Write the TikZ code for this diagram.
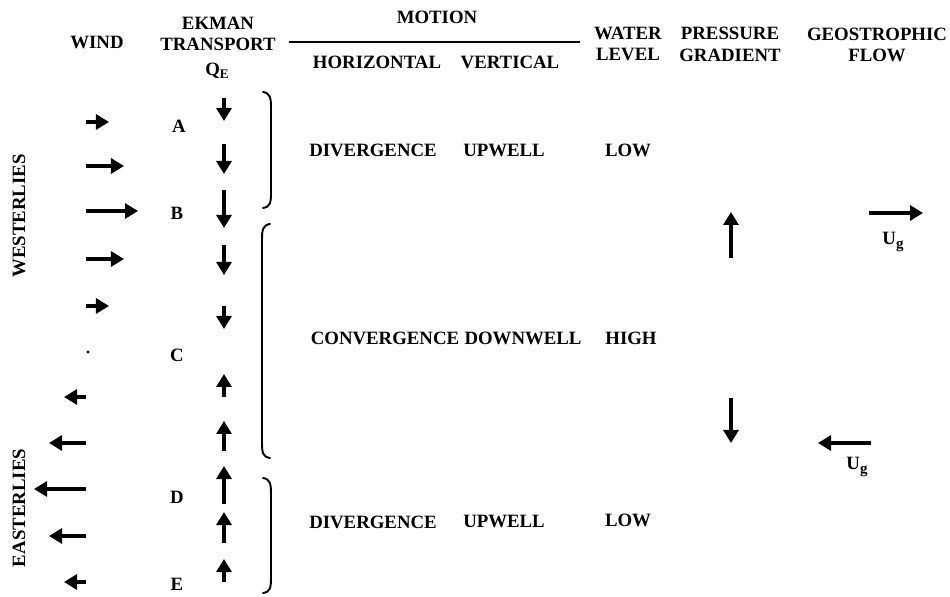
\documentclass[tikz,border=0pt]{standalone}
\usepackage{fontspec}
\setmainfont{Liberation Serif}
\usetikzlibrary{arrows.meta}

\tikzset{
  lbl/.style={font=\bfseries\fontsize{10.7}{12.4}\selectfont, inner sep=0pt, align=center},
  arr/.style={line width=2pt, -{Triangle[width=8.5pt,length=7.4pt]}},
  brk/.style={line width=1.1pt, line cap=round}
}

\begin{document}
\begin{tikzpicture}[x=0.02cm, y=-0.02cm]
\useasboundingbox (0,0) rectangle (950,597);

% column heads
\begin{scope}[every node/.style={lbl}]
    \node (wind) at (97,42) {WIND};
    \node (ekman) at (218,34) {EKMAN\\TRANSPORT};
    \node (qe) at (217,71) {Q\raisebox{-0.35ex}{\fontsize{7.5}{8}\selectfont E}};
    \node (motion) at (437,17) {MOTION};
    \node (horiz) at (377,62) {HORIZONTAL};
    \node (vert) at (510,62) {VERTICAL};
    \node (water) at (628,44) {WATER\\LEVEL};
    \node (press) at (730,44) {PRESSURE\\GRADIENT};
    \node (geo) at (877,45) {GEOSTROPHIC\\FLOW};

    \node[rotate=90] (west) at (19,216) {WESTERLIES};
    \node[rotate=90] (east) at (19,508) {EASTERLIES};
\end{scope}

\draw[line width=1.7pt] (289,42) -- (580,42);

% points
\begin{scope}[every node/.style={lbl}]
    \node (ptA) at (179,126) {A};
    \node (ptB) at (177,213) {B};
    \node (ptC) at (177,355) {C};
    \node (ptD) at (177,497) {D};
    \node (ptE) at (177,584) {E};
\end{scope}

% motion and water level
\begin{scope}[every node/.style={lbl}]
    \node (div1) at (373,150) {DIVERGENCE};
    \node (up1) at (504,150) {UPWELL};
    \node (low1) at (628,150) {LOW};

    \node (conv) at (385,338) {CONVERGENCE};
    \node (down) at (523,338) {DOWNWELL};
    \node (high) at (631,338) {HIGH};

    \node (div2) at (373,522) {DIVERGENCE};
    \node (up2) at (504,521) {UPWELL};
    \node (low2) at (628,520) {LOW};
\end{scope}

% wind
\begin{scope}[arr]
    \draw (86,122) -- (109,122);
    \draw (86,166) -- (124,166);
    \draw (86,211) -- (138,211);
    \draw (86,259) -- (124,259);
    \draw (86,306) -- (109,306);

    \draw (86,397) -- (64,397);
    \draw (86,443) -- (49,443);
    \draw (86,489) -- (34,489);
    \draw (86,536) -- (49,536);
    \draw (86,582) -- (64,582);
\end{scope}
\fill (88,352) circle (1.6);

% ekman transport
\begin{scope}[arr]
    \draw (224,98) -- (224,121);
    \draw (224,144) -- (224,174);
    \draw (224,190) -- (224,228);
    \draw (224,245) -- (224,275);
    \draw (224,306) -- (224,329);

    \draw (224,397) -- (224,374);
    \draw (224,451) -- (224,421);
    \draw (224,504) -- (224,466);
    \draw (224,543) -- (224,512);
    \draw (224,582) -- (224,559);
\end{scope}

% brackets
\begin{scope}[brk]
    \draw (263,92) .. controls (270,93) and (271,98) .. (271,107) -- (271,193) .. controls (271,203) and (270,207) .. (263,208);
    \draw (270,224) .. controls (263,225) and (262,230) .. (262,239) -- (262,443) .. controls (262,453) and (263,457) .. (270,458);
    \draw (263,478) .. controls (270,479) and (271,484) .. (271,493) -- (271,578) .. controls (271,588) and (270,592) .. (263,593);
\end{scope}

% pressure gradient and geostrophic flow
\begin{scope}[arr]
    \draw (731,258) -- (731,212);
    \draw (731,398) -- (731,443);
    \draw (869,213) -- (923,213);
    \draw (871,443) -- (818,443);
\end{scope}

\begin{scope}[every node/.style={lbl}]
    \node (ug1) at (893,242) {U\raisebox{-0.35ex}{\fontsize{8.5}{9}\selectfont g}};
    \node (ug2) at (857,467) {U\raisebox{-0.35ex}{\fontsize{8.5}{9}\selectfont g}};
\end{scope}

\end{tikzpicture}
\end{document}
